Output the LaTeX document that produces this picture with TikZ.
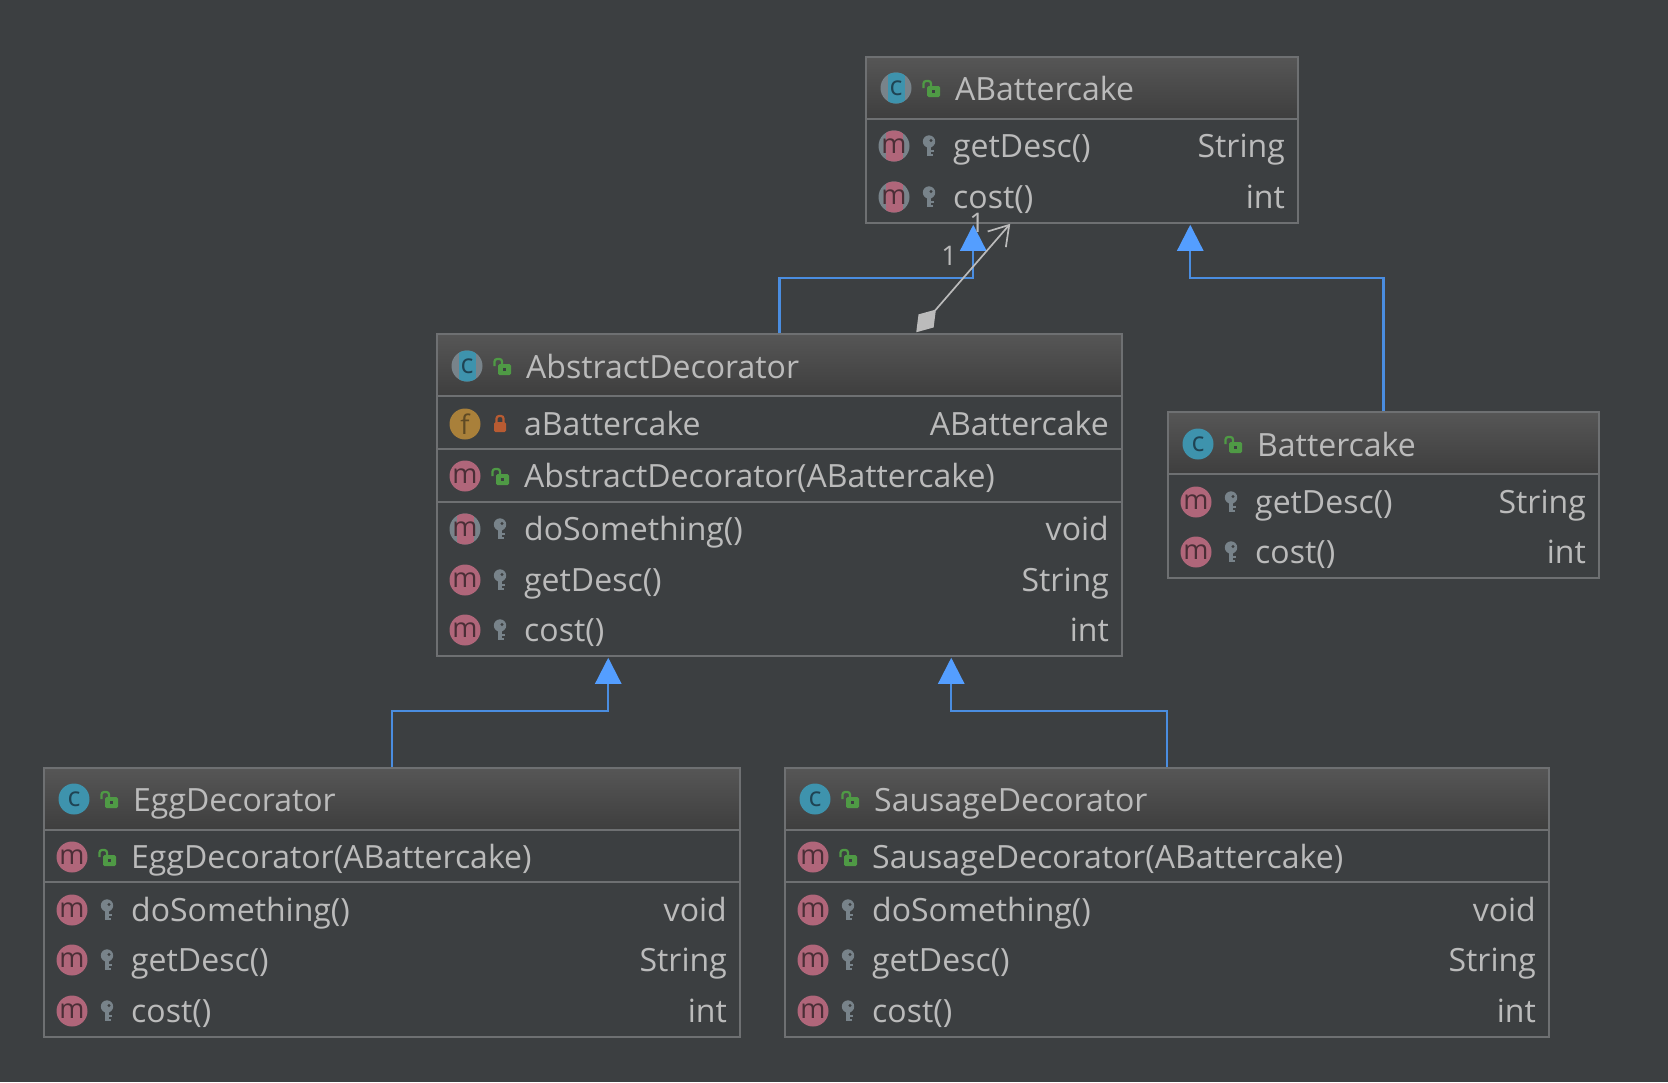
\documentclass[tikz,border=0pt]{standalone}
\usepackage{fontspec}
\setsansfont{Open Sans}
\usetikzlibrary{arrows.meta,calc}

\definecolor{umlBack}{HTML}{3C3F41}
\definecolor{umlLine}{HTML}{6E7072}
\definecolor{umlText}{HTML}{BBBBBB}
\definecolor{umlHeadTop}{HTML}{565656}
\definecolor{umlHeadLow}{HTML}{3E3E3E}
\definecolor{umlBlue}{HTML}{4A8DE0}
\definecolor{umlTip}{HTML}{549EFF}
\definecolor{iconPink}{HTML}{B0667A}
\definecolor{iconTeal}{HTML}{3E93AD}
\definecolor{iconGold}{HTML}{A9803A}
\definecolor{iconGray}{HTML}{78838A}
\definecolor{iconGreen}{HTML}{4F9A45}
\definecolor{iconRust}{HTML}{B85B32}
\definecolor{letterDark}{HTML}{4A2E36}
\definecolor{letterSea}{HTML}{1F4353}
\definecolor{letterGold}{HTML}{5F4A24}

\tikzset{
  classbox/.style={draw=umlLine,line width=1.5pt,inner sep=0pt},
  headshade/.style={top color=umlHeadTop,bottom color=umlHeadLow},
  sepline/.style={draw=umlLine,line width=1.5pt},
  titletext/.style={anchor=base west,inner sep=0pt,text=umlText,font=\sffamily\fontsize{32}{36}\selectfont},
  membertext/.style={anchor=base west,inner sep=0pt,text=umlText,font=\sffamily\fontsize{32}{36}\selectfont},
  typetext/.style={anchor=base east,inner sep=0pt,text=umlText,font=\sffamily\fontsize{32}{36}\selectfont},
  iconbase/.style={circle,minimum size=31pt,inner sep=0pt,font=\sffamily\fontsize{27}{27}\selectfont},
  mIcon/.style={iconbase,fill=iconPink,text=letterDark},
  fIcon/.style={iconbase,fill=iconGold,text=letterGold},
  cIcon/.style={iconbase,fill=iconTeal,text=letterSea},
  mAbstract/.style={mIcon,fill=iconGray,path picture={
    \fill[iconPink] ($(path picture bounding box.center)+(-8.5,-16)$) rectangle ++(17,32);}},
  cAbstract/.style={cIcon,fill=iconGray,path picture={
    \fill[iconTeal] ($(path picture bounding box.center)+(-8.5,-16)$) rectangle ++(17,32);}},
  implements/.style={draw=umlBlue,line width=2.3pt,-{Triangle[width=26pt,length=26pt,color=umlTip]}},
  holds/.style={draw=umlText,line width=1.7pt,{Diamond[length=30pt,width=20pt,fill=umlText]}-{Straight Barb[length=19pt,width=24pt,line width=1.7pt]}},
  pics/pubLock/.style={code={
    \fill[iconGreen,rounded corners=1.5pt] (-4,-2) rectangle (9,9);
    \fill[umlBack] (1.2,2.2) rectangle (3.8,4.8);
    \draw[iconGreen,line width=2.2pt,rounded corners=2.5pt] (-7.5,0) -- (-7.5,-7) -- (0,-7) -- (0,-2);}},
  pics/priLock/.style={code={
    \fill[iconRust,rounded corners=1.5pt] (-6,-2) rectangle (6,8);
    \draw[iconRust,line width=2.2pt,rounded corners=2.5pt] (-3.5,-2) -- (-3.5,-8) -- (3.5,-8) -- (3.5,-2);}},
  pics/proKey/.style={code={
    \fill[iconGray] (0,-4.5) circle (6.2);
    \fill[umlBack] (2,-5.5) circle (1.6);
    \fill[iconGray] (-2.2,0) rectangle (2.2,10);
    \fill[iconGray] (2,4) rectangle (4.5,6);
    \fill[iconGray] (2,7.5) rectangle (4,9.5);}}
}

% one member row: box, left, right, row, y, icon, visibility, label, type
\newcommand{\classrow}[9]{
  \node[#6] (#1-#4-icon) at (#2+28,#5) {\ifnum#4=0 c\else\ifnum#4=9 f\else m\fi\fi};
  \pic at (#2+63,#5) {#7};
  \node[membertext] (#1-#4-name) at (#2+87,#5+11) {#8};
  \node[typetext] (#1-#4-type) at (#3-13,#5+11) {#9};
}

\begin{document}
\begin{tikzpicture}[x=1pt,y=-1pt,font=\sffamily]
  \useasboundingbox[fill=umlBack] (0,0) rectangle (1668,1082);

  \foreach \name/\l/\t/\r/\b/\h in {
    abattercake/866/57/1298/223/119,
    abstractdeco/437/334/1122/656/396,
    battercake/1168/412/1599/578/474,
    eggdeco/44/768/740/1037/830,
    sausagedeco/785/768/1549/1037/830
  }{
    \path[headshade] (\l,\t) rectangle (\r,\h);
    \node[classbox,minimum width=\r-\l,minimum height=\b-\t] (\name) at ({(\l+\r)/2},{(\t+\b)/2}) {};
    \draw[sepline] (\l,\h) -- (\r,\h);
  }
  \draw[sepline] (437,449) -- (1122,449);
  \draw[sepline] (437,502) -- (1122,502);
  \draw[sepline] (44,882) -- (740,882);
  \draw[sepline] (785,882) -- (1549,882);

  % class titles
  \foreach \name/\l/\y/\icon/\title in {
    abattercake/866/88/cAbstract/ABattercake,
    abstractdeco/437/366/cAbstract/AbstractDecorator,
    battercake/1168/444/cIcon/Battercake,
    eggdeco/44/799/cIcon/EggDecorator,
    sausagedeco/785/799/cIcon/SausageDecorator
  }{
    \node[\icon] (\name-title-icon) at (\l+30,\y) {c};
    \pic at (\l+65,\y) {pubLock};
    \node[titletext] (\name-title) at (\l+89,\y+12) {\title};
  }

  \classrow{abattercake}{866}{1298}{1}{146}{mAbstract}{proKey}{getDesc()}{String}
  \classrow{abattercake}{866}{1298}{2}{197}{mAbstract}{proKey}{cost()}{int}

  \classrow{abstractdeco}{437}{1122}{9}{424}{fIcon}{priLock}{aBattercake}{ABattercake}
  \classrow{abstractdeco}{437}{1122}{3}{476}{mIcon}{pubLock}{AbstractDecorator(ABattercake)}{}
  \classrow{abstractdeco}{437}{1122}{4}{529}{mAbstract}{proKey}{doSomething()}{void}
  \classrow{abstractdeco}{437}{1122}{5}{580}{mIcon}{proKey}{getDesc()}{String}
  \classrow{abstractdeco}{437}{1122}{6}{630}{mIcon}{proKey}{cost()}{int}

  \classrow{battercake}{1168}{1599}{1}{502}{mIcon}{proKey}{getDesc()}{String}
  \classrow{battercake}{1168}{1599}{2}{552}{mIcon}{proKey}{cost()}{int}

  \classrow{eggdeco}{44}{740}{3}{857}{mIcon}{pubLock}{EggDecorator(ABattercake)}{}
  \classrow{eggdeco}{44}{740}{4}{910}{mIcon}{proKey}{doSomething()}{void}
  \classrow{eggdeco}{44}{740}{5}{960}{mIcon}{proKey}{getDesc()}{String}
  \classrow{eggdeco}{44}{740}{6}{1011}{mIcon}{proKey}{cost()}{int}

  \classrow{sausagedeco}{785}{1549}{3}{857}{mIcon}{pubLock}{SausageDecorator(ABattercake)}{}
  \classrow{sausagedeco}{785}{1549}{4}{910}{mIcon}{proKey}{doSomething()}{void}
  \classrow{sausagedeco}{785}{1549}{5}{960}{mIcon}{proKey}{getDesc()}{String}
  \classrow{sausagedeco}{785}{1549}{6}{1011}{mIcon}{proKey}{cost()}{int}

  % connectors
  \draw[implements] (abstractdeco.north) -- ++(0,-55) -| ($(abattercake.south west)+(108,1)$);
  \draw[implements] (battercake.north) -- ++(0,-133) -| ($(abattercake.south west)+(325,1)$);
  \draw[implements] (eggdeco.north) -- ++(0,-56) -| ($(abstractdeco.south west)+(172,1)$);
  \draw[implements] (sausagedeco.north) -- ++(0,-56) -| ($(abstractdeco.south west)+(515,1)$);
  \draw[holds] ($(abstractdeco.north west)+(480,-1)$) -- ($(abattercake.south west)+(145,0)$);

  \node[inner sep=0pt,text=umlText,font=\sffamily\fontsize{27}{27}\selectfont] (holdsNear) at (977,223) {1};
  \node[inner sep=0pt,text=umlText,font=\sffamily\fontsize{27}{27}\selectfont] (holdsFar) at (949,256) {1};
\end{tikzpicture}
\end{document}
